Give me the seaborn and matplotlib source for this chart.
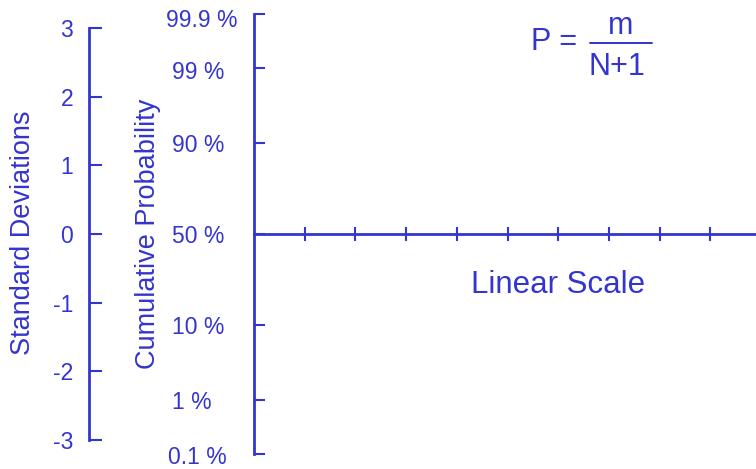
import math
import numpy as np
import matplotlib
matplotlib.use("Agg")
import matplotlib.pyplot as plt
from matplotlib.lines import Line2D
from matplotlib.transforms import ScaledTranslation
import seaborn as sns

# ---- data ----
sd_ticks = [-3, -2, -1, 0, 1, 2, 3]
sd_labels = ["-3", "-2", "-1", "0", "1", "2", "3"]
prob_values = [0.001, 0.01, 0.10, 0.50, 0.90, 0.99, 0.999]
prob_labels = ["0.1 %", "1 %", "10 %", "50 %", "90 %", "99 %", "99.9 %"]
linear_ticks = [1, 2, 3, 4, 5, 6, 7, 8, 9]
linear_max = 9.9

COLOR = "#3434CE"
W, H = 756, 469


def norm_ppf(p):
    lo, hi = -10.0, 10.0
    for _ in range(200):
        mid = 0.5 * (lo + hi)
        if 0.5 * (1 + math.erf(mid / math.sqrt(2))) < p:
            lo = mid
        else:
            hi = mid
    return 0.5 * (lo + hi)


def fx(x):
    return x / W


def fy(y):
    return 1 - y / H


sns.set_theme(style="white")
plt.rcParams["font.family"] = ["Liberation Sans", "DejaVu Sans"]
plt.rcParams["text.color"] = COLOR

fig = plt.figure(figsize=(W / 100, H / 100), dpi=100)

# ---- probability axis + linear scale ----
ax = fig.add_axes([fx(254), fy(454), (W - 254) / W, 440 / H])
ax.set_facecolor("none")
prob_pos = [norm_ppf(p) for p in prob_values]
sns.lineplot(x=[0, linear_max], y=[0, 0], ax=ax, color=COLOR, lw=0, legend=False)
ax.set_ylim(norm_ppf(0.001), norm_ppf(0.999))
ax.set_xlim(0, linear_max)
sns.despine(ax=ax, top=True, right=True)
for s in ("left", "bottom"):
    ax.spines[s].set_color(COLOR)
    ax.spines[s].set_linewidth(2.0)
ax.spines["bottom"].set_position(("data", 0))
ax.spines["left"].set_capstyle("projecting")
ax.set_yticks(prob_pos)
ax.set_yticklabels(prob_labels)
ax.tick_params(axis="y", direction="in", length=8, width=1.5, color=COLOR,
               labelcolor=COLOR, labelsize=16.5, pad=59, left=True)
ax.set_xticks(linear_ticks)
ax.set_xticklabels([])
ax.tick_params(axis="x", direction="inout", length=10, width=1.5, color=COLOR,
               bottom=True)
ax.set_xlabel("")
ax.set_ylabel("")
# (dx right, dy down) in pixels
shifts = {"99.9 %": (-6, 4), "0.1 %": (-4, 1), "99 %": (0, 1.5)}
for lab in ax.get_yticklabels():
    lab.set_ha("left")
    dx, dy = shifts.get(lab.get_text(), (0, 0))
    if dx or dy:
        lab.set_transform(lab.get_transform() +
                          ScaledTranslation(dx / 100, -dy / 100, fig.dpi_scale_trans))

# ---- standard deviation axis ----
ax2 = fig.add_axes([fx(88.5), fy(440), 20 / W, 412 / H])
ax2.set_facecolor("none")
ax2.set_ylim(-3, 3)
ax2.set_xticks([])
sns.despine(ax=ax2, top=True, right=True, bottom=True)
ax2.spines["left"].set_color(COLOR)
ax2.spines["left"].set_linewidth(2.0)
ax2.set_yticks(sd_ticks)
ax2.set_yticklabels(sd_labels)
ax2.tick_params(axis="y", direction="in", length=9, width=1.5, color=COLOR,
                labelcolor=COLOR, labelsize=16.5, pad=11, left=True)

# ---- labels ----
fig.text(fx(23), fy(233), "Standard Deviations", rotation=90, ha="center",
         va="center", fontsize=19.5, color=COLOR)
fig.text(fx(148), fy(233.5), "Cumulative Probability", rotation=90, ha="center",
         va="center", fontsize=19.5, color=COLOR)
fig.text(fx(558), fy(285), "Linear Scale", ha="center", va="center",
         fontsize=22.5, color=COLOR)

# ---- formula ----
fig.text(fx(531), fy(42), "P =", ha="left", va="center", fontsize=22, color=COLOR)
fig.text(fx(621), fy(34), "m", ha="center", va="baseline", fontsize=22, color=COLOR)
fig.text(fx(617), fy(75), "N+1", ha="center", va="baseline", fontsize=22,
         color=COLOR)
fig.add_artist(Line2D([fx(590), fx(652)], [fy(43), fy(43)], transform=fig.transFigure,
                      color=COLOR, lw=1.4))

fig.savefig("out.png", dpi=100)
